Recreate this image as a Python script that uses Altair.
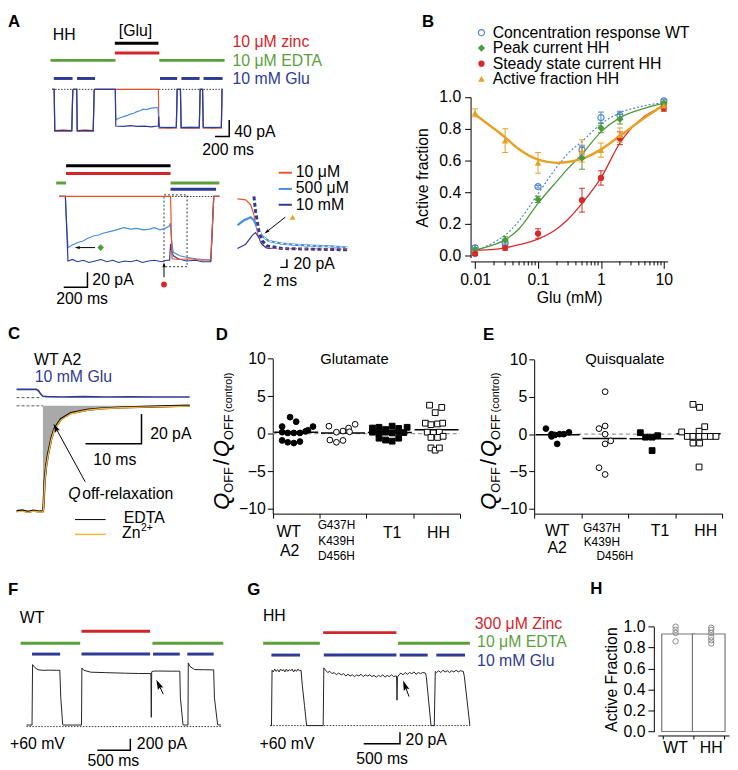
import math
import altair as alt
import pandas as pd

FONT = "Liberation Sans"
NAVY = "#2e3a93"
LBLUE = "#4a8edb"
ORED = "#e9552b"
RED = "#d3242b"
GREEN = "#5c9f3d"
B_BLUE = "#4f86d6"
B_GREEN = "#4d9a3c"
B_RED = "#d62a2a"
B_ORANGE = "#e7a124"
ZN = "#f1b33c"
SHADE = "#a9a9a9"
ZEROC = "#9a9a9a"

# ======================= DATA =======================
# ---- Panel A, top trace (ms, pA) ----
A_TOP_NAVY = [(0, 0), (28, 0), (36, -100), (150, -99), (276, -100), (290, -2), (300, 0), (345, 0), (353, -100),
              (460, -99), (578, -100), (592, -2), (600, 0), (889, 0), (897, -89), (1000, -90), (1100, -88),
              (1200, -90), (1300, -89), (1400, -91), (1490, -89), (1497, -88), (1501, -66), (1508, -90),
              (1520, -92), (1640, -93), (1750, -92), (1762, 0), (1808, 0), (1818, -93), (1950, -92),
              (2074, -93), (2086, 0), (2120, 0), (2130, -92), (2250, -93), (2385, -92), (2395, 0), (2403, 0)]
A_TOP_LBLUE = [(0, 0), (28, 0), (36, -100), (276, -100), (290, -2), (300, 0), (345, 0), (353, -100), (578, -100),
               (592, -2), (600, 0), (889, 0), (897, -74), (915, -72), (1008, -66), (1060, -63), (1102, -60),
               (1150, -58), (1194, -54), (1240, -52), (1287, -48), (1330, -49), (1381, -46), (1430, -45),
               (1473, -44), (1490, -45), (1497, -60), (1505, -90), (1520, -92), (1750, -92), (1762, 0),
               (1808, 0), (1818, -92), (2074, -92), (2086, 0), (2120, 0), (2130, -92), (2385, -92), (2395, 0),
               (2403, 0)]
A_TOP_ORED = [(0, 0), (28, 0), (36, -102), (276, -102), (290, -2), (300, 0), (345, 0), (353, -102), (578, -102),
              (592, -2), (600, 0), (1497, 0), (1505, -94), (1750, -94), (1762, 0), (1808, 0), (1818, -94),
              (2074, -94), (2086, 0), (2120, 0), (2130, -94), (2385, -94), (2395, 0), (2403, 0)]
A_TOP_BASE = [(0, 0), (2403, 0)]
A_TOP_SCALE = [(2296, -114.3), (2496, -114.3), (2496, -74.3)]   # 200 ms, 40 pA
A_TOP_GLU = ([883], [1497])
A_TOP_ZINC = ([883], [1510])
A_TOP_EDTA = ([-24, 1510], [893, 2431])
A_TOP_GLU10 = ([22, 349, 1520, 1822, 2134], [287, 604, 1762, 2078, 2403])

# ---- Panel A, bottom-left trace (ms, pA) ----
A_BL_NAVY = [(0, 0), (50, 0), (58, -30), (72, -87), (110, -85), (150, -88), (200, -86), (250, -89), (300, -87),
             (350, -85), (400, -88), (450, -86), (500, -89), (550, -87), (600, -88), (650, -86), (700, -89),
             (750, -87), (800, -86), (860, -88), (900, -86), (928, -86), (936, -64), (946, -74), (960, -80),
             (1000, -84), (1069, -87), (1150, -86), (1200, -88), (1264, -88), (1275, -88), (1300, 0), (1347, 0)]
A_BL_LBLUE = [(0, 0), (50, 0), (58, -30), (72, -69), (100, -66), (153, -62), (200, -60), (230, -57), (292, -53),
              (330, -52), (360, -50), (431, -47), (480, -45), (542, -42), (600, -44), (650, -43), (708, -45),
              (760, -44), (800, -42), (847, -45), (890, -43), (925, -40), (934, -36), (942, -56), (958, -75),
              (1014, -80), (1069, -82), (1150, -84), (1264, -86), (1275, -86), (1300, 0), (1347, 0)]
A_BL_ORED = [(0, 0), (936, 0), (948, -84), (1000, -85), (1100, -84), (1200, -86), (1275, -85), (1300, 0), (1347, 0)]
A_BL_BASE = [(0, 0), (1347, 0)]
A_BL_SCALE = [(36, -122.3), (236, -122.3), (236, -102.3)]     # 200 ms, 20 pA
A_BL_GLU = ([56], [936])
A_BL_ZINC = ([56], [936])
A_BL_EDTA = ([-27, 936], [56, 1347])
A_BL_GLU10 = ([936], [1319])
A_BL_BOX = {"t0": [881], "t1": [1075], "v0": [-94.7], "v1": [2.1]}

# ---- Panel A, inset (ms, pA) ----
A_IN_ORED = [(0, 0), (2.5, -2.4), (4, -14.4), (5, -38.4), (6, -78), (7, -106), (8.5, -118), (10, -119.5),
             (13.5, -120.6), (20, -121), (27, -121.5), (33.5, -122)]
A_IN_LBLUE = [(0, -63.8), (2, -52), (4, -44.6), (5, -52), (6, -70.3), (7.5, -90.2), (9.5, -102.2),
              (13.5, -108.6), (18, -111.5), (23.5, -114.1), (28, -115.5), (33.5, -118)]
A_IN_NAVY = [(0, -120.6), (2.5, -110), (4.5, -88.7), (5.5, -82), (6.5, -94), (7.5, -111), (9, -119.4),
             (19.5, -122), (33.5, -123.7)]
A_IN_FIT = [(5, 5.8), (5.5, -30), (6.5, -78), (7.5, -102), (9, -114), (13.5, -120.6), (33.5, -123.7)]
A_IN_SCALE = [(13, -166.2), (15, -166.2), (15, -146.3)]        # 2 ms, 20 pA

# ---- Panel B ----
GLU = [0.01, 0.03, 0.1, 0.5, 1, 2, 10]
B_WT = [0.05, 0.08, 0.435, 0.666, 0.87, 0.885, 0.975]
B_WT_E = [0.015, 0.012, 0.008, 0.03, 0.035, 0.025, 0.01]
B_PEAK = [0.04, 0.10, 0.355, 0.615, 0.805, 0.86, 0.96]
B_PEAK_E = [0.01, 0.02, 0.02, 0.07, 0.03, 0.03, 0.01]
B_SS = [0.012, 0.05, 0.14, 0.35, 0.49, 0.74, 0.93]
B_SS_E = [0.01, 0.015, 0.03, 0.075, 0.045, 0.04, 0.02]
B_AF = [0.90, 0.725, 0.585, 0.66, 0.665, 0.76, 0.945]
B_AF_E = [0.025, 0.075, 0.065, 0.07, 0.045, 0.045, 0.03]
GLU_FIT = [0.01, 0.02, 0.03, 0.05, 0.1, 0.2, 0.3, 0.5, 1, 2, 5, 10]
FIT_WT = [0.03, 0.085, 0.13, 0.22, 0.39, 0.56, 0.645, 0.72, 0.83, 0.9, 0.945, 0.965]
FIT_PEAK = [0.035, 0.07, 0.10, 0.17, 0.33, 0.47, 0.55, 0.64, 0.78, 0.87, 0.93, 0.96]
FIT_SS = [0.035, 0.04, 0.05, 0.07, 0.105, 0.17, 0.23, 0.33, 0.49, 0.71, 0.88, 0.94]
FIT_AF = [0.89, 0.80, 0.745, 0.67, 0.605, 0.585, 0.59, 0.61, 0.67, 0.755, 0.87, 0.95]
B_XTICKS = [0.01, 0.1, 1, 10]
B_MINOR = [0.02, 0.03, 0.04, 0.05, 0.06, 0.07, 0.08, 0.09, 0.2, 0.3, 0.4, 0.5, 0.6, 0.7, 0.8, 0.9,
           2, 3, 4, 5, 6, 7, 8, 9]
B_SERIES = ["Concentration response WT", "Peak current HH", "Steady state current HH", "Active fraction HH"]

# ---- Panel C (ms, pA) ----
C_EDTA = [(0, -71), (1, -70.4), (2, -71.4), (3, -70.6), (4, -71.2), (4.7, -71), (4.8, -68), (5.0, -51),
          (5.3, -40), (5.6, -33), (6.2, -22), (6.75, -15.5), (7.9, -8.9), (9.7, -4.9), (12.6, -2.7),
          (15, -1.8), (18.5, -1.1), (24, -0.5), (30.9, 0.1)]
C_ZN = [(0, -71.5), (1, -71), (2, -71.8), (3, -71), (4, -71.6), (4.7, -71.5), (4.8, -69), (5.0, -52),
        (5.3, -41), (5.6, -34), (6.2, -22.8), (6.75, -16), (7.9, -9.5), (9.7, -5.3), (12.6, -3), (15, -2),
        (18.5, -1.3), (24, -0.7), (30.9, -0.2)]
C_SOL = [(0, 11.1), (3.5, 11.1), (3.9, 10.2), (4.3, 8), (4.7, 6.4), (5.5, 6.2), (8, 6.0), (12, 6.2),
         (16, 5.9), (20, 6.1), (25, 5.9), (30.9, 6.0)]
C_DASH_SOL = [(0, 5.5), (4.4, 5.5)]
C_DASH_CUR = [(0, 0), (4.7, 0)]
C_SCALE = [(12.3, -25.5), (22.3, -25.5), (22.3, -5.5)]        # 10 ms, 20 pA

# ---- Panels D, E (category position, Q ratio) ----
D_WT = [(0.37, 2.2), (0.50, 1.6), (0.20, 0.95), (0.86, 0.95), (0.75, 0.45), (0.20, 0.2), (0.32, 0.1),
        (0.45, 0.1), (0.58, 0.1), (0.70, 0.3), (0.20, -0.9), (0.32, -1.15), (0.45, -1.25), (0.58, -1.05)]
D_G = [(1.20, 1.0), (1.36, 0.2), (1.50, 0.35), (1.62, 0.75), (1.76, 1.25), (1.22, -0.85), (1.36, -1.15),
       (1.50, -0.9), (1.64, 0.25)]
D_T1 = [(2.13, 0.75), (2.27, 0.85), (2.41, 0.55), (2.55, 1.0), (2.69, 0.7), (2.87, 0.85), (2.13, 0.2),
        (2.27, 0.0), (2.41, 0.2), (2.55, 0.1), (2.69, 0.25), (2.80, 0.15), (2.27, -0.6), (2.41, -0.85),
        (2.55, -1.0), (2.69, -0.6)]
D_HH = [(3.35, 3.8), (3.47, 2.8), (3.61, 3.5), (3.26, 1.4), (3.38, 1.2), (3.52, 1.3), (3.63, 1.4),
        (3.30, 0.2), (3.43, 0.1), (3.56, 0.2), (3.38, -0.5), (3.52, -0.5), (3.64, -0.35), (3.38, -1.9),
        (3.47, -2.2), (3.56, -1.9)]
E_WT = [(0.25, 0.75), (0.37, 0.0), (0.37, -0.3), (0.44, -0.1), (0.54, 0.0), (0.63, 0.0), (0.74, 0.25),
        (0.49, -1.3)]
E_G = [(1.51, 5.7), (1.38, 0.75), (1.51, 1.1), (1.51, 0.0), (1.63, -0.9), (1.51, -1.3), (1.38, -4.5),
       (1.51, -5.4)]
E_T1 = [(2.26, 0.2), (2.37, -0.4), (2.51, -0.4), (2.63, -0.2), (2.51, -2.2)]
E_HH = [(3.14, 0.3), (3.38, 4.0), (3.52, 3.6), (3.63, 1.0), (3.51, 0.4), (3.26, -0.3), (3.38, -0.3),
        (3.51, -0.3), (3.63, -0.3), (3.75, -0.3), (3.87, -0.3), (3.38, -1.2), (3.52, -1.2), (3.51, -4.4)]
DE_YTICKS = [-10, -5, 0, 5, 10]
DE_XTICKS = [0, 1, 2, 3, 4]

# ---- Panel F (ms, pA) ----
F_TRACE = [(0, 27), (15, 27), (84, 27), (92, 1074), (130, 1020), (174, 985), (250, 975), (350, 978),
           (450, 975), (505, 976), (520, 500), (549, 30), (560, 27), (700, 27), (834, 27), (840, 1017),
           (870, 975), (975, 943), (1200, 935), (1500, 925), (1700, 920), (1874, 919), (1886, 918),
           (1892, 160), (1898, 950), (1919, 961), (2000, 963), (2200, 960), (2324, 961), (2333, 500),
           (2373, 30), (2400, 27), (2448, 27), (2453, 1103), (2480, 1040), (2549, 988), (2700, 985),
           (2838, 983), (2849, 500), (2898, 30), (2948, 27)]
F_BASE = [(0, 0), (2948, 0)]
F_SCALE = [(1074, -411.7), (1574, -411.7), (1574, -212.7)]     # 500 ms, 200 pA
F_ZINC = ([834], [1874])
F_EDTA = ([-90, 1909], [814, 2984])
F_GLU = ([84, 834, 1919, 2438], [510, 1874, 2324, 2838])

# ---- Panel G (ms, pA) ----
G_TRACE = [(0, 0), (15, 0), (23, 96), (40, 93), (60, 98), (80, 94), (100, 97), (120, 93), (140, 98), (160, 95),
           (180, 97), (200, 93), (220, 98), (240, 94), (260, 97), (280, 95), (300, 98), (320, 93), (340, 97),
           (360, 94), (380, 98), (400, 95), (423, 96), (440, 70), (470, 35), (500, 0), (600, 0), (728, 0),
           (737, 100), (760, 96), (790, 92), (820, 94), (850, 90), (880, 92), (910, 88), (940, 91), (978, 88),
           (1010, 90), (1040, 86), (1070, 89), (1100, 86), (1130, 88), (1160, 85), (1190, 88), (1220, 86),
           (1250, 89), (1280, 85), (1310, 88), (1340, 86), (1370, 88), (1400, 85), (1430, 87), (1460, 84),
           (1490, 87), (1520, 85), (1550, 88), (1580, 84), (1610, 87), (1640, 85), (1670, 88), (1700, 85),
           (1728, 86), (1740, 86), (1746, 44), (1752, 84), (1773, 88), (1800, 91), (1830, 88), (1860, 92),
           (1890, 89), (1920, 92), (1950, 90), (1980, 93), (2010, 89), (2040, 92), (2070, 90), (2100, 92),
           (2138, 91), (2150, 85), (2215, 0), (2260, 0), (2274, 94), (2290, 92), (2320, 95), (2350, 92),
           (2380, 96), (2410, 93), (2440, 95), (2470, 92), (2500, 95), (2530, 93), (2560, 96), (2590, 93),
           (2620, 95), (2660, 94), (2675, 85), (2751, 0)]
G_BASE = [(0, 0), (2751, 0)]
G_SCALE = [(1287, -31.6), (1787, -31.6), (1787, -11.5)]       # 500 ms, 20 pA
G_ZINC = ([728], [1738])
G_EDTA = ([-100, 1760], [682, 2751])
G_GLU = ([14, 737, 1783, 2288], [409, 1738, 2169, 2684])

# ---- Panel H ----
H_CATS = ["WT", "HH"]
H_MEAN = [0.93, 0.93]
H_WT = [1.0, 0.97, 0.94, 0.86]
H_HH = [0.99, 0.97, 0.94, 0.90, 0.87, 0.84]
H_YTICKS = [0, 0.2, 0.4, 0.6, 0.8, 1.0]


# ======================= HELPERS =======================
def lin(dom, rng):
    return alt.Scale(domain=dom, range=rng, zero=False, nice=False)


ONE = pd.DataFrame({"k": [0]})


def txt(o, s, x, y, size=15, color="black", align="left", weight="normal", style="normal", angle=0):
    return alt.Chart(pd.DataFrame({"s": [s]})).mark_text(
        align=align, baseline="alphabetic", font=FONT, fontSize=size, color=color,
        fontWeight=weight, fontStyle=style, angle=angle,
    ).encode(x=alt.value(x - o[0]), y=alt.value(y - o[1]), text="s:N")


def seg(o, x1, x2, y, color, width=1.0):
    return alt.Chart(ONE).mark_rule(color=color, strokeWidth=width).encode(
        x=alt.value(x1 - o[0]), x2=alt.value(x2 - o[0]), y=alt.value(y - o[1]))


def marker(o, x, y, shape, color, size=40, filled=True, angle=0):
    return alt.Chart(ONE).mark_point(shape=shape, filled=filled, color=color, size=size, angle=angle,
                                     opacity=1, strokeWidth=1.2).encode(
        x=alt.value(x - o[0]), y=alt.value(y - o[1]))


HEAD = "M0,-1L0.55,0.85L0,0.55L-0.55,0.85Z"


def arrow(o, x1, y1, x2, y2, size=60):
    dx, dy = x2 - x1, y2 - y1
    L = math.hypot(dx, dy)
    ux, uy = dx / L, dy / L
    ang = (math.degrees(math.atan2(dx, -dy)) + 360) % 360
    back = 0.28 * math.sqrt(size)
    hx, hy = x2 - back * ux, y2 - back * uy
    ln = alt.Chart(ONE).mark_rule(color="black", strokeWidth=1).encode(
        x=alt.value(x1 - o[0]), y=alt.value(y1 - o[1]),
        x2=alt.value(hx - o[0]), y2=alt.value(hy - o[1]))
    hd = alt.Chart(ONE).mark_point(shape=HEAD, filled=True, color="black", size=size, angle=ang,
                                   opacity=1).encode(x=alt.value(hx - o[0]), y=alt.value(hy - o[1]))
    return [ln, hd]


def pts_df(pts):
    return pd.DataFrame({"t": [p[0] for p in pts], "v": [p[1] for p in pts], "i": list(range(len(pts)))})


def line(pts, xs, ys, color, width=1.2, dash=None, filt=None):
    kw = {"color": color, "strokeWidth": width}
    if dash:
        kw["strokeDash"] = dash
    ch = alt.Chart(pts_df(pts))
    if filt is not None:
        ch = ch.transform_filter(filt)
    return ch.mark_line(**kw).encode(
        x=alt.X("t:Q", scale=xs, axis=None), y=alt.Y("v:Q", scale=ys, axis=None), order="i:Q")


def appl(o, se, xs, y, color, width=3):
    df = pd.DataFrame({"a": se[0], "b": se[1]})
    return alt.Chart(df).mark_rule(color=color, strokeWidth=width).encode(
        x=alt.X("a:Q", scale=xs, axis=None), x2="b:Q", y=alt.value(y - o[1]))


def panel(layers, w, h):
    return alt.layer(*layers).resolve_scale(x="independent", y="independent").properties(width=w, height=h)


def rx(o, *vals):
    return [v - o[0] for v in vals]


def ry(o, *vals):
    return [v - o[1] for v in vals]


# ======================= PANEL A =======================
OA = (3, 3)
xs_top = lin([0, 2403], rx(OA, 47.7, 220.0))
ys_top = lin([-100, 0], ry(OA, 121.7, 80.0))
xs_bl = lin([0, 1347], rx(OA, 55.0, 216.7))
ys_bl = lin([-100, 0], ry(OA, 263.3, 188.3))
xs_in = lin([0, 34], rx(OA, 235.0, 348.3))
ys_in = lin([-130, 10], ry(OA, 244.9, 186.5))

A_layers = [
    txt(OA, "A", 3, 16.7, 17, weight="bold"),
    txt(OA, "HH", 48.3, 30, 16),
    txt(OA, "[Glu]", 115, 26, 16),
    appl(OA, A_TOP_GLU, xs_top, 33.3, "black"),
    appl(OA, A_TOP_ZINC, xs_top, 43.3, RED),
    appl(OA, A_TOP_EDTA, xs_top, 50.7, GREEN),
    appl(OA, A_TOP_GLU10, xs_top, 69.0, NAVY),
    txt(OA, "10 μM zinc", 230, 36.7, 16, RED),
    txt(OA, "10 μM EDTA", 230, 56, 16, GREEN),
    txt(OA, "10 mM Glu", 230, 75, 16, NAVY),
    line(A_TOP_BASE, xs_top, ys_top, "black", 0.8, [1.5, 1.5]),
    line(A_TOP_ORED, xs_top, ys_top, ORED, 1.2),
    line(A_TOP_LBLUE, xs_top, ys_top, LBLUE, 1.2),
    line(A_TOP_NAVY, xs_top, ys_top, NAVY, 1.2),
    line(A_TOP_SCALE, xs_top, ys_top, "black", 1.5),
    txt(OA, "40 pA", 231.7, 127.7, 16),
    txt(OA, "200 ms", 199.3, 146.7, 16),
    # bottom-left
    appl(OA, A_BL_GLU, xs_bl, 157.3, "black"),
    appl(OA, A_BL_ZINC, xs_bl, 165.0, RED),
    appl(OA, A_BL_EDTA, xs_bl, 174.7, GREEN),
    appl(OA, A_BL_GLU10, xs_bl, 181.0, NAVY),
    line(A_BL_BASE, xs_bl, ys_bl, "black", 0.8, [1.5, 1.5]),
    alt.Chart(pd.DataFrame(A_BL_BOX)).mark_rect(fillOpacity=0, stroke="black", strokeWidth=0.8,
                                                 strokeDash=[2, 2]).encode(
        x=alt.X("t0:Q", scale=xs_bl, axis=None), x2="t1:Q",
        y=alt.Y("v0:Q", scale=ys_bl, axis=None), y2="v1:Q"),
    line(A_BL_LBLUE, xs_bl, ys_bl, LBLUE, 1.2),
    line(A_BL_NAVY, xs_bl, ys_bl, NAVY, 1.2),
    line(A_BL_ORED, xs_bl, ys_bl, ORED, 1.2),
    line(A_BL_SCALE, xs_bl, ys_bl, "black", 1.5),
    txt(OA, "20 pA", 88.3, 278.3, 16),
    txt(OA, "200 ms", 51.7, 296.7, 16),
    marker(OA, 96.7, 240, "diamond", B_GREEN, 45),
    marker(OA, 160.7, 277.3, "circle", B_RED, 35),
    *arrow(OA, 91, 240, 71.7, 240, 35),
    *arrow(OA, 160.7, 270, 160.7, 256, 35),
    # inset
    line(A_IN_ORED, xs_in, ys_in, ORED, 1.3),
    line(A_IN_LBLUE, xs_in, ys_in, LBLUE, 2.2),
    line(A_IN_LBLUE, xs_in, ys_in, "white", 1.0, [3, 3], "datum.t >= 6"),
    line(A_IN_NAVY, xs_in, ys_in, NAVY, 1.2),
    line(A_IN_FIT, xs_in, ys_in, "white", 3.0),
    line(A_IN_FIT, xs_in, ys_in, NAVY, 3.0, [4, 2.5]),
    line(A_IN_ORED, xs_in, ys_in, ORED, 1.0, [2, 3], "datum.t >= 9"),
    line(A_IN_SCALE, xs_in, ys_in, "black", 1.5),
    seg(OA, 276.7, 290, 164.3, ORED, 2),
    seg(OA, 276.7, 290, 180.7, LBLUE, 2),
    seg(OA, 276.7, 290, 196.7, NAVY, 2),
    txt(OA, "10 μM", 294, 168.3, 16),
    txt(OA, "500 μM", 294, 185, 16),
    txt(OA, "10 mM", 294, 201.7, 16),
    marker(OA, 290.7, 209.3, "triangle-up", B_ORANGE, 35),
    *arrow(OA, 283.3, 209.3, 263.3, 225, 35),
    txt(OA, "20 pA", 291.7, 261.7, 16),
    txt(OA, "2 ms", 260.7, 279.3, 16),
]
panelA = panel(A_layers, 377, 304)

# ======================= PANEL B =======================
OB = (380, 3)
xsB = alt.Scale(type="log", domain=[0.00847, 11.5], range=rx(OB, 470.7, 670.0), nice=False)
ysB = lin([-0.012, 1.0], ry(OB, 250.2, 87.7))
axBx = alt.Axis(values=B_XTICKS, format="~g", tickSize=7, labelFontSize=16, labelPadding=3,
                title="Glu (mM)", titleFontSize=16, titlePadding=3, offset=(254 - OB[1]) - 304, grid=False,
                labelFlush=False, labelOverlap=False)
axBy = alt.Axis(values=[0, 0.2, 0.4, 0.6, 0.8, 1.0], format=".1f", tickSize=6, labelFontSize=16,
                labelPadding=4, title="Active fraction", titleFontSize=16, titlePadding=8,
                offset=-(470.7 - OB[0]), grid=False, labelFlush=False, labelOverlap=False)


def b_curve(vals, color, width, dash=None, axes=False):
    kw = {"color": color, "strokeWidth": width, "interpolate": "monotone"}
    if dash:
        kw["strokeDash"] = dash
    df = pd.DataFrame({"x": GLU_FIT, "y": vals})
    return alt.Chart(df).mark_line(**kw).encode(
        x=alt.X("x:Q", scale=xsB, axis=axBx if axes else None),
        y=alt.Y("y:Q", scale=ysB, axis=axBy if axes else None))


def b_err(vals, errs, color):
    df = pd.DataFrame({"x": GLU, "lo": [v - e for v, e in zip(vals, errs)],
                       "hi": [v + e for v, e in zip(vals, errs)]})
    rule = alt.Chart(df).mark_rule(color=color, strokeWidth=1).encode(
        x=alt.X("x:Q", scale=xsB, axis=None), y=alt.Y("lo:Q", scale=ysB, axis=None), y2="hi:Q")
    caps = alt.Chart(df).transform_fold(["lo", "hi"], as_=["k", "yy"]).mark_tick(
        orient="horizontal", size=6, thickness=1, color=color, opacity=1).encode(
        x=alt.X("x:Q", scale=xsB, axis=None), y=alt.Y("yy:Q", scale=ysB, axis=None))
    return [rule, caps]


def b_pts(vals, shape, color, size, filled=True):
    df = pd.DataFrame({"x": GLU, "y": vals})
    return alt.Chart(df).mark_point(shape=shape, filled=filled, color=color, size=size, opacity=1,
                                    strokeWidth=1.2).encode(
        x=alt.X("x:Q", scale=xsB, axis=None), y=alt.Y("y:Q", scale=ysB, axis=None))


B_layers = [
    b_curve(FIT_WT, B_BLUE, 1.2, [2, 2], axes=True),
    b_curve(FIT_PEAK, B_GREEN, 1.3),
    b_curve(FIT_SS, B_RED, 1.3),
    b_curve(FIT_AF, B_ORANGE, 2.5),
    alt.Chart(pd.DataFrame({"x": B_MINOR})).mark_rule(color="black", strokeWidth=1).encode(
        x=alt.X("x:Q", scale=xsB, axis=None), y=alt.value(254 - OB[1]), y2=alt.value(258 - OB[1])),
    *b_err(B_WT, B_WT_E, B_BLUE),
    *b_err(B_PEAK, B_PEAK_E, B_GREEN),
    *b_err(B_SS, B_SS_E, B_RED),
    *b_err(B_AF, B_AF_E, B_ORANGE),
    b_pts(B_WT, "circle", B_BLUE, 38, False),
    b_pts(B_PEAK, "diamond", B_GREEN, 55),
    b_pts(B_SS, "circle", B_RED, 40),
    b_pts(B_AF, "triangle-up", B_ORANGE, 45),
    txt(OB, "B", 421.7, 16.7, 17, weight="bold"),
    marker(OB, 481.7, 22.7, "circle", B_BLUE, 38, False),
    marker(OB, 481.7, 38.3, "diamond", B_GREEN, 55),
    marker(OB, 481.7, 54.0, "circle", B_RED, 40),
    marker(OB, 481.7, 69.5, "triangle-up", B_ORANGE, 45),
    txt(OB, B_SERIES[0], 493, 28.0, 16),
    txt(OB, B_SERIES[1], 493, 43.7, 16),
    txt(OB, B_SERIES[2], 493, 59.4, 16),
    txt(OB, B_SERIES[3], 493, 75.0, 16),
]
panelB = panel(B_layers, 353, 304)

# ======================= PANEL C =======================
ROW2_H = 252
OC = (3, 307)
xsC = lin([0, 30.9], rx(OC, 11.7, 186.7))
ysC = lin([-75, 12], ry(OC, 512.5, 382.0))
C_layers = [
    alt.Chart(pts_df(C_EDTA)).transform_filter("datum.t >= 4.7").mark_area(
        color=SHADE, opacity=1, interpolate="linear").encode(
        x=alt.X("t:Q", scale=xsC, axis=None),
        y=alt.Y("v:Q", scale=ysC, axis=None, stack=None), y2=alt.datum(0)),
    line(C_DASH_SOL, xsC, ysC, "#555555", 1.0, [3, 2]),
    line(C_DASH_CUR, xsC, ysC, "#555555", 1.0, [3, 2]),
    line(C_SOL, xsC, ysC, NAVY, 1.6),
    line(C_EDTA, xsC, ysC, "black", 2.2),
    line(C_ZN, xsC, ysC, ZN, 1.4),
    line(C_SCALE, xsC, ysC, "black", 1.5),
    txt(OC, "C", 3, 332.7, 17, weight="bold"),
    txt(OC, "WT A2", 29.3, 358.3, 16),
    txt(OC, "10 mM Glu", 30, 376, 16, NAVY),
    txt(OC, "20 pA", 146.7, 433.3, 16),
    txt(OC, "10 ms", 89.3, 460, 16),
    *arrow(OC, 81, 476.7, 50, 420, 90),
    txt(OC, "Q", 64, 494, 16, style="italic"),
    txt(OC, "off-relaxation", 78, 494, 16),
    seg(OC, 70.7, 101.7, 515, "black", 1),
    seg(OC, 70.7, 101.7, 530, ZN, 1.5),
    txt(OC, "EDTA", 120, 518.3, 16),
    txt(OC, "Zn", 118.3, 533.3, 16),
    txt(OC, "2+", 137.5, 526.5, 10.5),
]
panelC = panel(C_layers, 197, ROW2_H)


# ======================= PANELS D, E =======================
def qtitle(o, xb, y0):
    pieces = [("Q", 22, "italic", 0, 0.778, 0), ("OFF", 13, "normal", 4, 2.0, 2),
              ("/", 22, "normal", 0, 0.278, 2), ("Q", 22, "italic", 0, 0.778, 0),
              ("OFF", 13, "normal", 4, 2.0, 2), ("(control)", 11, "normal", 3.5, 3.667, 0)]
    out = []
    y = y0
    for s, fs, st, sh, em, gap in pieces:
        out.append(txt(o, s, xb + sh, y, fs, style=st, angle=270))
        y -= fs * em + gap
    return out


def cat_panel(o, w, h, xs, ys, axis_x, groups, zero_from, title, title_x, labels, tx, ty0, letter):
    axx = alt.Axis(values=DE_XTICKS, labels=False, tickSize=4.5, offset=(509 - o[1]) - h, grid=False,
                   title=None)
    axy = alt.Axis(values=DE_YTICKS, tickSize=5.5, labelFontSize=16, labelPadding=2, offset=-(axis_x - o[0]),
                   grid=False, title=None, labelFlush=False, labelOverlap=False)
    base = alt.Chart(pd.DataFrame({"x": [zero_from], "x2": [4], "y": [0]})).mark_rule(
        color=ZEROC, strokeWidth=1.2, strokeDash=[4, 3]).encode(
        x=alt.X("x:Q", scale=xs, axis=axx), x2="x2:Q", y=alt.Y("y:Q", scale=ys, axis=axy))
    means = pd.DataFrame({"a": [i + 0.03 for i in range(4)], "b": [i + 0.97 for i in range(4)],
                          "m": [sum(p[1] for p in g) / len(g) for g in groups]})
    mean_l = alt.Chart(means).mark_rule(color="black", strokeWidth=1.5).encode(
        x=alt.X("a:Q", scale=xs, axis=None), x2="b:Q", y=alt.Y("m:Q", scale=ys, axis=None))
    styles = [("circle", "black", "black"), ("circle", "white", "black"),
              ("square", "black", "black"), ("square", "white", "black")]
    layers = [base, mean_l]
    for g, (shape, fill, stroke) in zip(groups, styles):
        layers.append(alt.Chart(pts_df(g)).mark_point(shape=shape, fill=fill, stroke=stroke, size=34,
                                                      strokeWidth=1, opacity=1, fillOpacity=1).encode(
            x=alt.X("t:Q", scale=xs, axis=None), y=alt.Y("v:Q", scale=ys, axis=None)))
    layers.append(txt(o, title, title_x, 357.3, 15, align="center"))
    for s, pos, yb, fs in labels:
        layers.append(alt.Chart(pd.DataFrame({"s": [s], "p": [pos]})).mark_text(
            align="center", baseline="alphabetic", font=FONT, fontSize=fs, color="black").encode(
            x=alt.X("p:Q", scale=xs, axis=None), y=alt.value(yb - o[1]), text="s:N"))
    layers += qtitle(o, tx, ty0)
    layers.append(letter)
    return panel(layers, w, h)


OD = (200, 307)
xsD = lin([0, 4], rx(OD, 270.7, 460.0))
ysD = lin([-10.66, 10], ry(OD, 509.0, 352.3))
D_LABELS = [("WT", 0.34, 533, 16), ("A2", 0.36, 551.7, 16), ("G437H", 1.36, 525, 12),
            ("K439H", 1.36, 540.7, 12), ("D456H", 1.36, 556, 12), ("T1", 2.55, 534, 16),
            ("HH", 3.54, 534, 16)]
panelD = cat_panel(OD, 270, ROW2_H, xsD, ysD, 270.7, [D_WT, D_G, D_T1, D_HH], 0, "Glutamate", 353.3,
                   D_LABELS, 226, 505, txt(OD, "D", 213, 333.3, 17, weight="bold"))

OE = (470, 307)
xsE = lin([0, 4], rx(OE, 535.0, 725.0))
ysE = lin([-10.66, 10], ry(OE, 509.0, 353.3))
E_LABELS = [("WT", 0.49, 532, 16), ("A2", 0.49, 548.7, 16), ("G437H", 1.44, 527.3, 12),
            ("K439H", 1.44, 541.7, 12), ("D456H", 1.72, 556, 12), ("T1", 2.68, 532, 16),
            ("HH", 3.65, 532, 16)]
panelE = cat_panel(OE, 263, ROW2_H, xsE, ysE, 535.0, [E_WT, E_G, E_T1, E_HH], 0.92, "Quisqualate", 626.7,
                   E_LABELS, 496, 505, txt(OE, "E", 483.3, 333.3, 17, weight="bold"))

# ======================= PANEL F =======================
ROW3_Y = 307 + ROW2_H
ROW3_H = 765 - ROW3_Y
OF = (3, ROW3_Y)
xsF = lin([0, 2948], rx(OF, 21.7, 218.3))
ysF = lin([0, 1200], ry(OF, 724.3, 654.3))
F_layers = [
    txt(OF, "F", 3, 591.7, 17, weight="bold"),
    txt(OF, "WT", 15, 619.3, 16),
    appl(OF, F_ZINC, xsF, 628, RED),
    appl(OF, F_EDTA, xsF, 640, GREEN),
    appl(OF, F_GLU, xsF, 651, NAVY),
    line(F_BASE, xsF, ysF, "black", 0.8, [1.5, 1.5]),
    line(F_TRACE, xsF, ysF, "#222222", 1.0),
    line(F_SCALE, xsF, ysF, "black", 1.5),
    *arrow(OF, 160, 691.5, 154, 679, 120),
    txt(OF, "+60 mV", 5, 747.3, 16),
    txt(OF, "200 pA", 133.3, 747.3, 16),
    txt(OF, "500 ms", 83.3, 764.5, 16),
]
panelF = panel(F_layers, 242, ROW3_H)

# ======================= PANEL G =======================
OG = (245, ROW3_Y)
xsG = lin([0, 2751], rx(OG, 268.3, 470.0))
ysG = lin([0, 120], ry(OG, 723.3, 653.3))
G_layers = [
    txt(OG, "G", 245, 591.7, 17, weight="bold"),
    txt(OG, "HH", 260.7, 617.3, 16),
    appl(OG, G_ZINC, xsG, 629.3, RED),
    appl(OG, G_EDTA, xsG, 640, GREEN),
    appl(OG, G_GLU, xsG, 652, NAVY),
    line(G_BASE, xsG, ysG, "black", 0.8, [1.5, 1.5]),
    line(G_TRACE, xsG, ysG, "#222222", 1.0),
    line(G_SCALE, xsG, ysG, "black", 1.5),
    *arrow(OG, 408.5, 694, 403.3, 680, 120),
    txt(OG, "+60 mV", 257.3, 747.3, 16),
    txt(OG, "20 pA", 405, 742.7, 16),
    txt(OG, "500 ms", 355, 761.7, 16),
    txt(OG, "300 μM Zinc", 475, 625.7, 16, RED),
    txt(OG, "10 μM EDTA", 477.3, 644.3, 16, GREEN),
    txt(OG, "10 mM Glu", 477.3, 663.3, 16, NAVY),
]
panelG = panel(G_layers, 343, ROW3_H)

# ======================= PANEL H =======================
OH = (588, ROW3_Y)
xsH = lin([0, 2], rx(OH, 660.0, 732.0))
ysH = lin([0, 1], ry(OH, 729.3, 623.3))
axHx = alt.Axis(values=[0, 1, 2], labels=False, tickSize=3.5, offset=(733.3 - OH[1]) - ROW3_H, grid=False,
                title=None)
axHy = alt.Axis(values=H_YTICKS, format=".1f", tickSize=6, labelFontSize=16, labelPadding=3,
                title="Active Fraction", titleFontSize=16, titlePadding=4, offset=-(656 - OH[0]), grid=False,
                labelFlush=False, labelOverlap=False)
h_bars = pd.DataFrame({"c": [i + 0.5 for i in range(len(H_CATS))], "m": H_MEAN, "lab": H_CATS})
h_pts = pd.DataFrame({"c": [0.5] * len(H_WT) + [1.5] * len(H_HH), "v": H_WT + H_HH})
H_layers = [
    alt.Chart(h_bars).mark_bar(size=33, fill="white", stroke="#777777", strokeWidth=1.2).encode(
        x=alt.X("c:Q", scale=xsH, axis=axHx), y=alt.Y("m:Q", scale=ysH, axis=axHy), y2=alt.datum(0)),
    alt.Chart(h_pts).mark_point(shape="circle", filled=False, color="#8a8a8a", size=30, strokeWidth=1,
                                opacity=1).encode(
        x=alt.X("c:Q", scale=xsH, axis=None), y=alt.Y("v:Q", scale=ysH, axis=None)),
    alt.Chart(h_bars).mark_text(align="center", baseline="alphabetic", font=FONT, fontSize=16,
                                color="black").encode(
        x=alt.X("c:Q", scale=xsH, axis=None), y=alt.value(751 - OH[1]), text="lab:N"),
    txt(OH, "H", 591.7, 590.7, 17, weight="bold"),
]
panelH = panel(H_layers, 145, ROW3_H)

# ======================= ASSEMBLY =======================
row1 = alt.hconcat(panelA, panelB, spacing=0, bounds="flush")
row2 = alt.hconcat(panelC, panelD, panelE, spacing=0, bounds="flush")
row3 = alt.hconcat(panelF, panelG, panelH, spacing=0, bounds="flush")
chart = alt.vconcat(row1, row2, row3, spacing=0).properties(padding=0).configure_view(
    stroke=None).configure_axis(
    labelFont=FONT, titleFont=FONT, labelColor="black", titleColor="black", domainColor="black",
    tickColor="black", titleFontWeight="normal", grid=False)

chart.save("out.html", embed_options={"renderer": "svg", "actions": False})
